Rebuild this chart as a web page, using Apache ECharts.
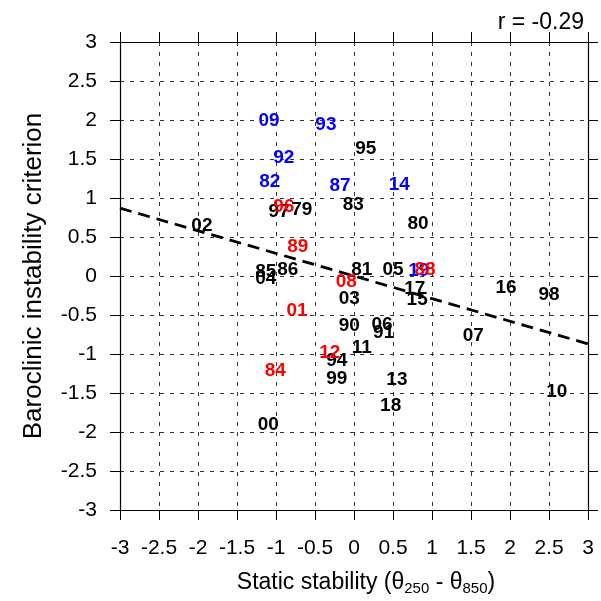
<!DOCTYPE html>
<html>
<head>
<meta charset="utf-8">
<script src="https://cdn.jsdelivr.net/npm/echarts@6/dist/echarts.min.js"></script>
<style>
  html, body { margin: 0; padding: 0; background: #fff; }
  #chart { width: 601px; height: 601px; }
</style>
</head>
<body>
<div id="chart"></div>
<script>
// year labels and their (static stability, baroclinic criterion) values
const blackYears = ['79', '80', '81', '83', '85', '86', '90', '91', '94', '95', '97', '98', '99',
  '00', '02', '03', '04', '05', '06', '07', '10', '11', '13', '15', '16', '17', '18']
const blackX = [-0.67, 0.82, 0.10, -0.01, -1.13, -0.85, -0.06, 0.38, -0.22, 0.15, -0.96, 2.50, -0.22,
  -1.10, -1.95, -0.06, -1.13, 0.50, 0.36, 1.53, 2.60, 0.10, 0.55, 0.81, 1.95, 0.78, 0.47]
const blackY = [0.85, 0.67, 0.08, 0.91, 0.05, 0.08, -0.64, -0.73, -1.09, 1.63, 0.82, -0.24, -1.32,
  -1.91, 0.64, -0.29, -0.04, 0.08, -0.62, -0.77, -1.49, -0.92, -1.33, -0.31, -0.15, -0.17, -1.67]

const blueYears = ['82', '87', '92', '93', '09', '14', '19']
const blueX = [-1.08, -0.18, -0.90, -0.36, -1.09, 0.58, 0.83]
const blueY = [1.21, 1.16, 1.51, 1.94, 1.99, 1.17, 0.07]

const redYears = ['84', '88', '89', '96', '01', '08', '12']
const redX = [-1.01, 0.91, -0.72, -0.90, -0.73, -0.10, -0.31]
const redY = [-1.22, 0.08, 0.37, 0.89, -0.45, -0.07, -0.98]

// regression line end points
const fitX = [-3, 3]
const fitY = [0.87, -0.87]

const rText = 'r = -0.29'

const chart = echarts.init(document.getElementById('chart'), null, { renderer: 'canvas' })

function pts(names, xs, ys) {
  return names.map((n, i) => ({ name: n, value: [xs[i], ys[i]] }))
}

function labelSeries(names, xs, ys, color) {
  return {
    type: 'scatter',
    xAxisIndex: 0,
    yAxisIndex: 0,
    symbolSize: 1,
    itemStyle: { color: color, opacity: 0 },
    data: pts(names, xs, ys),
    label: {
      show: true,
      position: 'inside',
      formatter: '{b}',
      color: color,
      opacity: 1,
      textBorderWidth: 0,
      fontSize: 19,
      fontWeight: 'bold',
      fontFamily: 'Liberation Sans'
    },
    emphasis: { disabled: true },
    silent: true,
    z: 5
  }
}

const tickStyle = { show: true, inside: false, length: 10, lineStyle: { color: '#000', width: 1 } }
const lineStyle = { show: true, onZero: false, lineStyle: { color: '#000', width: 1.2 } }
const gridLine = { show: true, lineStyle: { color: '#333', width: 1, type: [4, 6] } }
const tickFont = { color: '#000', fontSize: 21, fontFamily: 'Liberation Sans' }

chart.setOption({
  animation: false,
  backgroundColor: '#fff',
  title: {
    text: rText,
    right: 12,
    top: 6,
    textStyle: { fontSize: 23, fontWeight: 'normal', color: '#000', fontFamily: 'Liberation Sans' }
  },
  grid: { left: 120, right: 13, top: 42, bottom: 90 },
  xAxis: [{
    type: 'value',
    position: 'bottom',
    min: -3,
    max: 3,
    interval: 0.5,
    axisLine: lineStyle,
    axisTick: tickStyle,
    splitLine: gridLine,
    axisLabel: Object.assign({ margin: 28 }, tickFont),
    name: 'Static stability (θ{sub|250} - θ{sub|850})',
    nameLocation: 'middle',
    nameGap: 60,
    nameTextStyle: {
      color: '#000',
      fontSize: 23,
      fontFamily: 'Liberation Sans',
      padding: [0, 0, 0, 24],
      rich: {
        sub: { fontSize: 15, padding: [11, 0, 0, 0], fontFamily: 'Liberation Sans', color: '#000' }
      }
    }
  }, {
    type: 'value',
    position: 'top',
    min: -3,
    max: 3,
    interval: 0.5,
    axisLine: lineStyle,
    axisTick: tickStyle,
    splitLine: { show: false },
    axisLabel: { show: false }
  }],
  yAxis: [{
    type: 'value',
    position: 'left',
    min: -3,
    max: 3,
    interval: 0.5,
    axisLine: lineStyle,
    axisTick: tickStyle,
    splitLine: gridLine,
    axisLabel: Object.assign({ margin: 23 }, tickFont),
    name: 'Baroclinic instability criterion',
    nameLocation: 'middle',
    nameGap: 73,
    nameTextStyle: { color: '#000', fontSize: 26, fontFamily: 'Liberation Sans' }
  }, {
    type: 'value',
    position: 'right',
    min: -3,
    max: 3,
    interval: 0.5,
    axisLine: lineStyle,
    axisTick: tickStyle,
    splitLine: { show: false },
    axisLabel: { show: false }
  }],
  series: [
    {
      type: 'line',
      xAxisIndex: 0,
      yAxisIndex: 0,
      data: fitX.map((x, i) => [x, fitY[i]]),
      symbol: 'none',
      lineStyle: { color: '#000', width: 2.8, type: [12, 7] },
      silent: true,
      z: 3
    },
    labelSeries(blackYears, blackX, blackY, '#000'),
    labelSeries(blueYears, blueX, blueY, '#0000ff'),
    labelSeries(redYears, redX, redY, '#ff0000')
  ]
})
</script>
</body>
</html>
